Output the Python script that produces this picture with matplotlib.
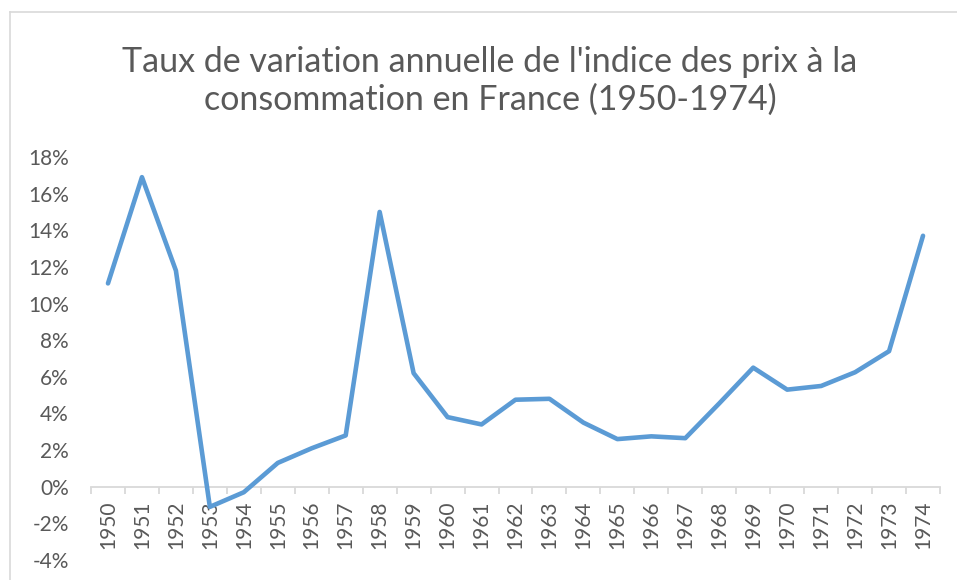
import matplotlib.pyplot as plt
from matplotlib.lines import Line2D

YEARS = [str(y) for y in range(1950, 1975)]
INFLATION = [
    11.1, 16.9, 11.8, -1.1, -0.3, 1.3, 2.1, 2.8, 15.0, 6.2,
    3.8, 3.4, 4.75, 4.8, 3.5, 2.6, 2.75, 2.65, 4.55, 6.5,
    5.3, 5.5, 6.25, 7.4, 13.7,
]
Y_TICKS = list(range(-4, 19, 2))
TITLE = "Taux de variation annuelle de l'indice des prix à la\nconsommation en France (1950-1974)"

TEXT = "#595959"
GRID = "#d9d9d9"
BLUE = "#5B9BD5"
FONT = ["Lato", "DejaVu Sans"]


def main() -> None:
    W, H = 957, 580
    fig = plt.figure(figsize=(W / 100, H / 100), dpi=100, facecolor="white")
    ax = fig.add_axes([91 / W, 1 - 560 / H, (940 - 91) / W, (560 - 157) / H])

    x = list(range(len(YEARS)))
    ax.plot(x, INFLATION, color=BLUE, lw=3.3, solid_capstyle="round",
            solid_joinstyle="round", zorder=3)

    ax.set_xlim(-0.5, len(YEARS) - 0.5)
    ax.set_ylim(-4, 18)

    for side in ("left", "right", "top"):
        ax.spines[side].set_visible(False)
    ax.spines["bottom"].set_position(("data", 0))
    ax.spines["bottom"].set_color(GRID)
    ax.spines["bottom"].set_linewidth(1.3)

    # category boundaries carry tick marks, centres carry labels
    ax.set_xticks([i - 0.5 for i in range(len(YEARS) + 1)])
    ax.set_xticklabels([])
    ax.tick_params(axis="x", which="major", length=5, width=1.3, color=GRID)
    ax.set_xticks(x, minor=True)
    ax.set_xticklabels(YEARS, minor=True, rotation=90, color=TEXT,
                       fontsize=15, family=FONT)
    ax.tick_params(axis="x", which="minor", length=0, pad=10)

    ax.set_yticks(Y_TICKS)
    ax.set_yticklabels([f"{v}%" for v in Y_TICKS], color=TEXT, fontsize=15,
                       family=FONT)
    ax.tick_params(axis="y", length=0, pad=16)

    fig.text(490 / W, 1 - 81 / H, TITLE, ha="center", va="center",
             color=TEXT, fontsize=24.5, family=FONT, linespacing=1.2)

    # chart area border (only top and left edges visible)
    fig.add_artist(Line2D([10 / W, 1], [1 - 12 / H] * 2, color=GRID, lw=1.2,
                          transform=fig.transFigure))
    fig.add_artist(Line2D([10 / W] * 2, [0, 1 - 12 / H], color=GRID, lw=1.2,
                          transform=fig.transFigure))

    fig.savefig("out.png", dpi=100, facecolor="white")
    plt.close(fig)


if __name__ == "__main__":
    main()
